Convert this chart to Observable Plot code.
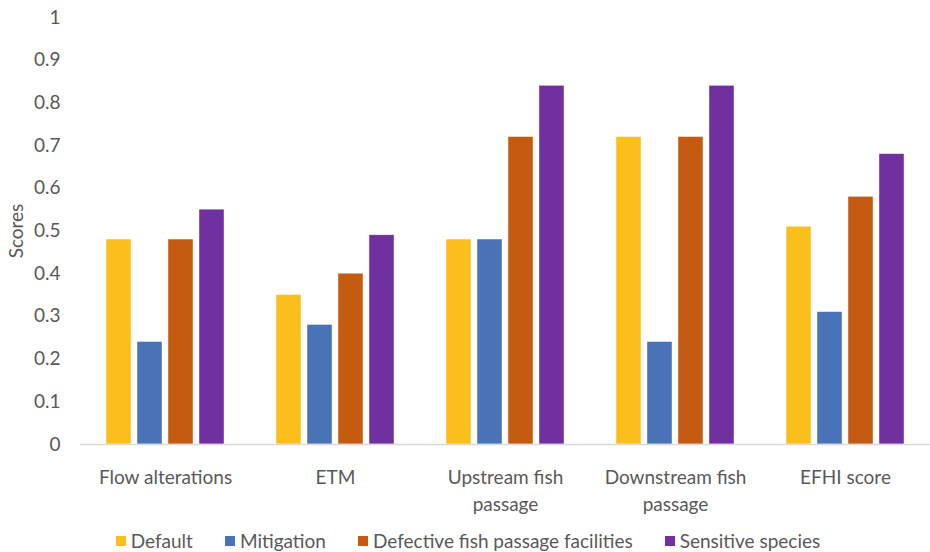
<!DOCTYPE html>
<html><head><meta charset="utf-8">
<script src="https://cdn.jsdelivr.net/npm/d3@7"></script>
<script src="https://cdn.jsdelivr.net/npm/@observablehq/plot@0.6"></script>
<style>
body{margin:0;background:#fff;font-family:Lato,sans-serif;}
#legend{display:flex;justify-content:center;align-items:center;width:930px;height:30px;padding-left:6px;padding-top:7px;box-sizing:border-box;font-size:19px;color:#595959;}
.item{display:flex;align-items:center;margin:0 16px;}
.sw{width:10px;height:10px;margin-right:5px;}
</style></head><body>
<div id="chart"></div><div id="legend"></div>
<script>
const categories = ["Flow alterations","ETM","Upstream fish\npassage","Downstream fish\npassage","EFHI score"];
const series = ["Default","Mitigation","Defective fish passage facilities","Sensitive species"];
const colors = ["#FBBF1C","#4A72B7","#C55A11","#7030A0"];
const defaultValues = [0.48,0.35,0.48,0.72,0.51];
const mitigationValues = [0.24,0.28,0.48,0.24,0.31];
const defectiveValues = [0.48,0.40,0.72,0.72,0.58];
const sensitiveValues = [0.55,0.49,0.84,0.84,0.68];
const yTicks = [0,0.1,0.2,0.3,0.4,0.5,0.6,0.7,0.8,0.9,1];

const valueSets = [defaultValues, mitigationValues, defectiveValues, sensitiveValues];
const data = [];
categories.forEach((c,i)=>series.forEach((s,j)=>data.push({category:c, series:s, value:valueSets[j][i]})));

const chart = Plot.plot({
  width:930, height:522, marginLeft:80, marginRight:0, marginTop:17, marginBottom:78,
  style:{fontFamily:"Lato, sans-serif", fontSize:"19px", color:"#595959", background:"#fff"},
  fx:{domain:categories, padding:0, label:null},
  x:{domain:series, paddingInner:0.2, paddingOuter:0.8, axis:null},
  y:{domain:[0,1], label:null},
  color:{domain:series, range:colors},
  marks:[
    Plot.axisY({ticks:yTicks, tickSize:0, tickPadding:20, tickFormat:d=>String(d), label:"Scores", labelAnchor:"center", labelArrow:"none", labelOffset:71, fontSize:19}),
    Plot.axisFx({anchor:"bottom", tickSize:0, tickPadding:20, lineHeight:1.42, label:null, fontSize:19}),
    Plot.barY(data,{fx:"category", x:"series", y:"value", fill:"series", stroke:"white", strokeWidth:0.6, strokeOpacity:0.7}),
    Plot.ruleY([0],{stroke:"#D9D9D9", strokeWidth:1.5})
  ]
});
document.getElementById("chart").appendChild(chart);

const legend = document.getElementById("legend");
series.forEach((s,j)=>{
  const it = document.createElement("div"); it.className="item";
  const sw = document.createElement("div"); sw.className="sw"; sw.style.background=colors[j];
  const t = document.createElement("span"); t.textContent=s;
  it.appendChild(sw); it.appendChild(t); legend.appendChild(it);
});
</script>
</body></html>
